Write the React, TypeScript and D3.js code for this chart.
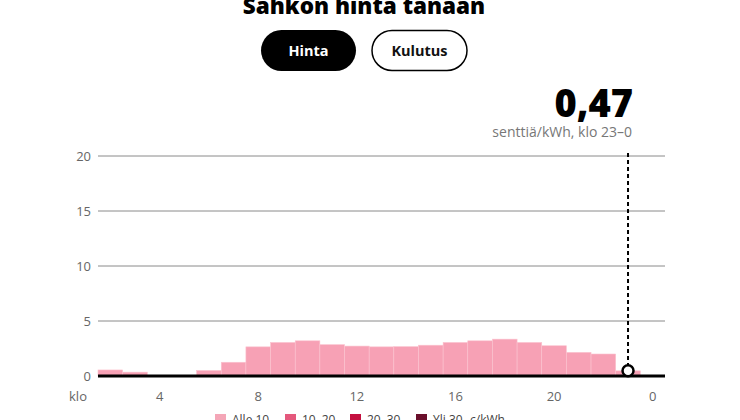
import React from "react";
import * as d3 from "d3";

const hours: string[] = ["2","3","4","5","6","7","8","9","10","11","12","13","14","15","16","17","18","19","20","21","22","23","0"];
const prices: (number | null)[] = [0.55,0.35,0,0,0.5,1.25,2.65,3.05,3.2,2.85,2.72,2.65,2.67,2.8,3.05,3.2,3.35,3.05,2.75,2.15,2.0,0.47,null];
const yTicks: number[] = [0,5,10,15,20];
const xTickLabels: string[] = ["4","8","12","16","20","0"];
const legendLabels: string[] = ["Alle 10","10–20","20–30","Yli 30"];
const legendColors: string[] = ["#f4a6b7","#e4587c","#c4103f","#6a0f2b"];
const selectedHour = "23";
const selectedValue = "0,47";

const W = 740, H = 420;
const FONT = "'Open Sans', 'Noto Sans', sans-serif";

export default function App() {
  const x = d3.scaleBand<string>().domain(hours).range([98, 665]).padding(0);
  const y = d3.scaleLinear().domain([0, 20]).range([376, 156]);
  const bw = x.bandwidth();
  const selIdx = hours.indexOf(selectedHour);
  const selVal = prices[selIdx] as number;
  const cx = (x(selectedHour) as number) + bw / 2;

  const legendX = [215, 285, 350, 416];

  return (
    <svg width={W} height={H} style={{ position: "absolute", left: 0, top: 0, fontFamily: FONT }}>
      <rect width={W} height={H} fill="#fff" />
      <text x={364} y={14} textAnchor="middle" fontSize={22.5} fontWeight={800} fill="#000">Sähkön hinta tänään</text>

      <rect x={261} y={30} width={95} height={41} rx={20.5} fill="#000" />
      <text x={308.5} y={55.5} textAnchor="middle" fontSize={14.5} fontWeight={700} fill="#fff">Hinta</text>
      <rect x={372} y={30.5} width={95} height={40} rx={20} fill="#fff" stroke="#000" strokeWidth={1.5} />
      <text x={419.5} y={55.5} textAnchor="middle" fontSize={14.5} fontWeight={700} fill="#111">Kulutus</text>

      <text x={633} y={117} textAnchor="end" fontSize={38} fontWeight={800} fill="#000">{selectedValue}</text>
      <text x={632} y={137} textAnchor="end" fontSize={14} fill="#777">senttiä/kWh, klo 23–0</text>

      {yTicks.map((t) => (
        <g key={t}>
          {t > 0 && <line x1={98} x2={665} y1={y(t)} y2={y(t)} stroke="#8a8a8a" strokeWidth={1} />}
          <text x={91} y={y(t) + 4.5} textAnchor="end" fontSize={13} fill="#666">{t}</text>
        </g>
      ))}

      {hours.map((h, i) => {
        const v = prices[i];
        if (v == null || v <= 0) return null;
        return (
          <rect key={h} x={x(h) as number} y={y(v)} width={bw} height={y(0) - y(v)}
            fill="#f7a1b5" stroke="#fbc3cf" strokeWidth={0.6} />
        );
      })}

      <line x1={98} x2={665} y1={376} y2={376} stroke="#000" strokeWidth={3} />

      <line x1={cx} x2={cx} y1={153} y2={y(selVal) - 5} stroke="#000" strokeWidth={2} strokeDasharray="4,3" />
      <circle cx={cx} cy={y(selVal)} r={5.5} fill="#fff" stroke="#000" strokeWidth={2.5} />

      <text x={78} y={401} textAnchor="middle" fontSize={13} fill="#666">klo</text>
      {xTickLabels.map((t) => (
        <text key={t} x={(x(t) as number) + bw / 2} y={401} textAnchor="middle" fontSize={13} fill="#666">{t}</text>
      ))}

      {legendLabels.map((l, i) => (
        <g key={l}>
          <rect x={legendX[i]} y={414} width={11} height={11} fill={legendColors[i]} />
          <text x={legendX[i] + 17} y={424} fontSize={12} fill="#444">{l}</text>
        </g>
      ))}
      <text x={470} y={424} fontSize={12} fill="#444">c/kWh</text>
    </svg>
  );
}
